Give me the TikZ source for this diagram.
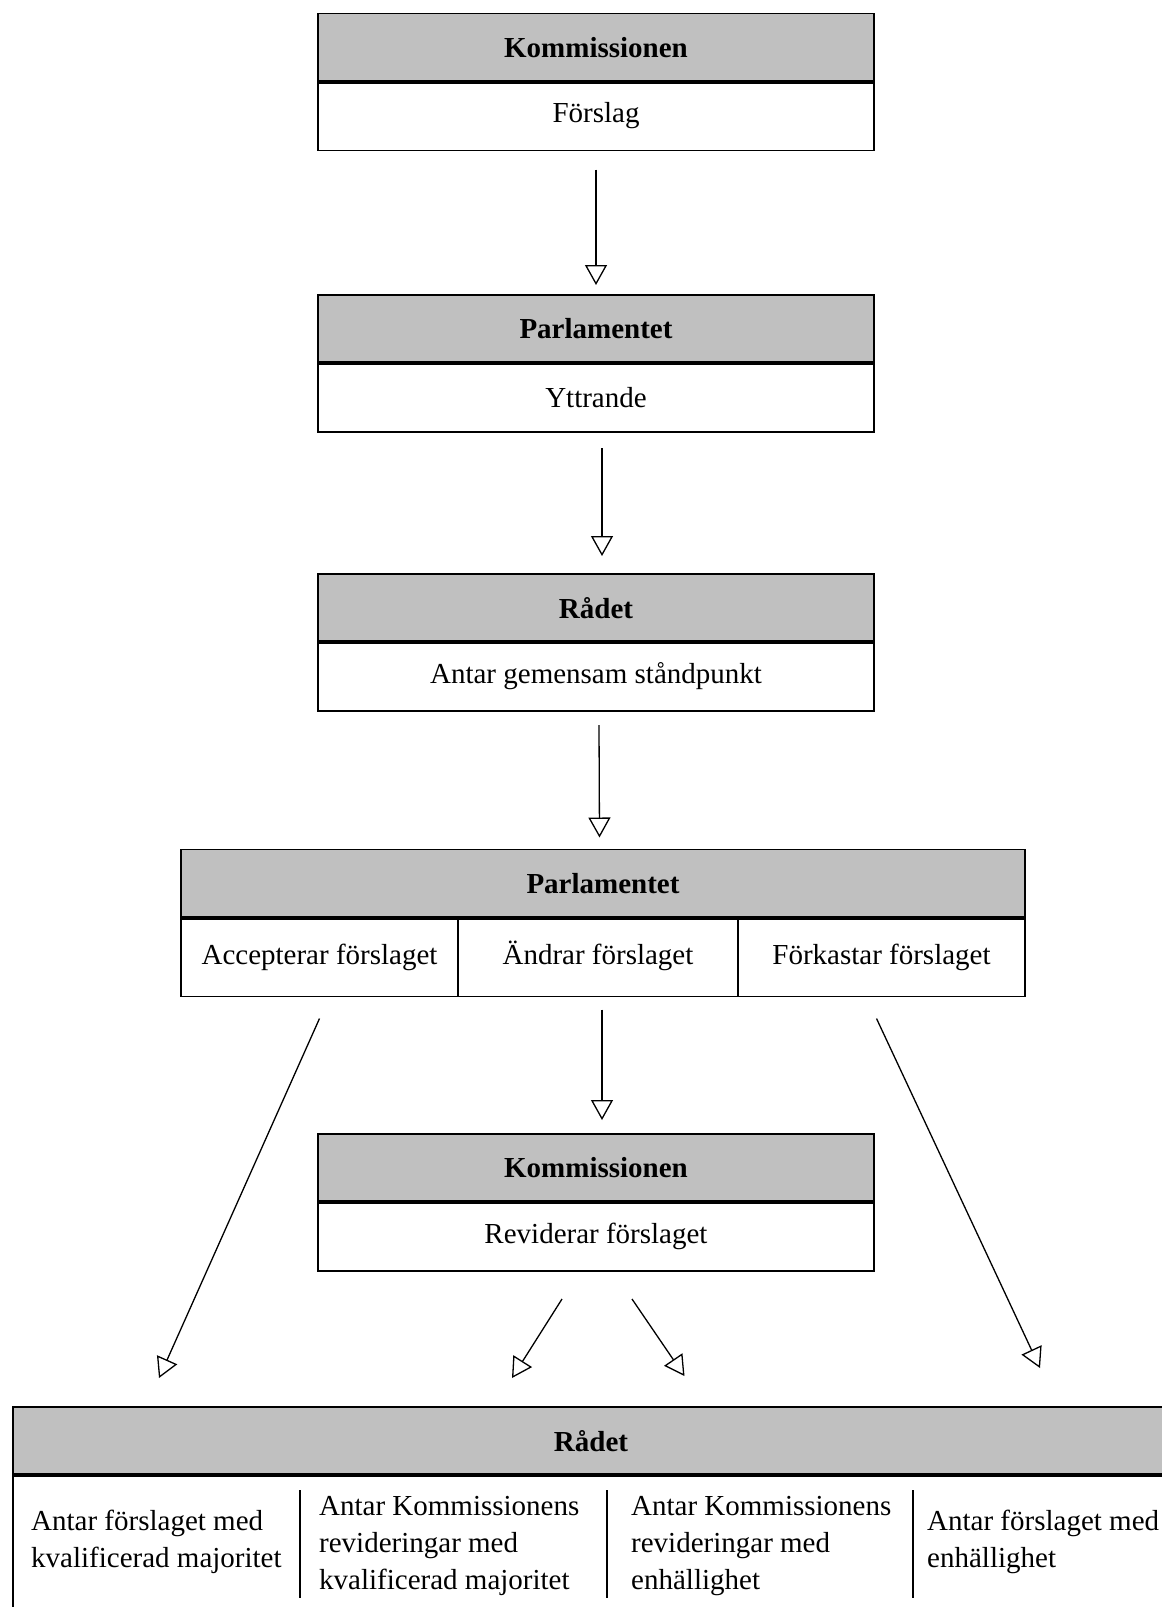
\documentclass[tikz,border=0pt]{standalone}
\usepackage{fontspec}
\setmainfont{Liberation Serif}
\usepackage{tikz}
\usetikzlibrary{arrows.meta, positioning}
\definecolor{hdrgray}{RGB}{192,192,192}
\tikzset{
  hdr/.style={rectangle, draw=black, fill=hdrgray, outer sep=0pt,
    minimum width=556pt, minimum height=68pt,
    font=\fontsize{29}{35}\selectfont\bfseries, line width=1.8pt},
  body/.style={rectangle, draw=black, fill=white, outer sep=0pt,
    minimum width=556pt, minimum height=69pt,
    font=\fontsize{29}{35}\selectfont, line width=1.8pt},
  cell/.style={rectangle, draw=black, fill=white, outer sep=0pt,
    minimum height=79pt, text height=21pt, text depth=7pt,
    font=\fontsize{29}{35}\selectfont, line width=1.8pt},
  celltxt/.style={align=left, anchor=base west, inner sep=0pt,
    font=\fontsize{29}{37}\selectfont},
  sepline/.style={line width=4pt},
  divider/.style={line width=1.8pt},
  arrow/.style={-{Triangle[open, length=20pt, width=22pt]}, line width=1.3pt}
}

\begin{document}
\begin{tikzpicture}[x=1pt, y=-1pt]
  \useasboundingbox (0,0) rectangle (1162,1607);
  \clip (0,0) rectangle (1162,1607);

  % Kommissionen
  \node[hdr] (kom1h) at (596,47.5) {Kommissionen};
  \node[body, below=0pt of kom1h] (kom1b) {Förslag};
  \draw[sepline] (kom1h.south west) -- (kom1h.south east);

  % Parlamentet
  \node[hdr] (par1h) at (596,329) {Parlamentet};
  \node[body, below=0pt of par1h] (par1b) {Yttrande};
  \draw[sepline] (par1h.south west) -- (par1h.south east);

  % Raadet
  \node[hdr] (rad1h) at (596,608) {Rådet};
  \node[body, below=0pt of rad1h] (rad1b) {Antar gemensam ståndpunkt};
  \draw[sepline] (rad1h.south west) -- (rad1h.south east);

  % Parlamentet, three outcomes
  \node[hdr, minimum width=844pt] (par2h) at (603,883.5) {Parlamentet};
  \node[cell, minimum width=277pt, anchor=north west] (acc) at (par2h.south west) {Accepterar förslaget};
  \node[cell, minimum width=280pt, right=0pt of acc] (andr) {Ändrar förslaget};
  \node[cell, minimum width=287pt, right=0pt of andr] (fork) {Förkastar förslaget};
  \draw[sepline] (par2h.south west) -- (par2h.south east);

  % Kommissionen reviderar
  \node[hdr] (kom2h) at (596,1168) {Kommissionen};
  \node[body, below=0pt of kom2h] (kom2b) {Reviderar förslaget};
  \draw[sepline] (kom2h.south west) -- (kom2h.south east);

  % Raadet, final decision
  \node[hdr, minimum width=1156pt] (rad2h) at (591,1441) {Rådet};
  \node[body, minimum width=1156pt, minimum height=150pt, below=0pt of rad2h] (rad2b) {};
  \draw[sepline] (rad2h.south west) -- (rad2h.south east);
  \foreach \x in {300,607,913}
    \draw[divider] (\x,1490) -- (\x,1598);
  \node[celltxt] (accmaj) at (31,1567) {Antar förslaget med\\kvalificerad majoritet};
  \node[celltxt] (revmaj) at (319,1589) {Antar Kommissionens\\revideringar med\\kvalificerad majoritet};
  \node[celltxt] (revenh) at (631,1589) {Antar Kommissionens\\revideringar med\\enhällighet};
  \node[celltxt] (accenh) at (927,1567) {Antar förslaget med\\enhällighet};

  % arrow ends
  \coordinate (tipA) at (159,1378);
  \coordinate (tipRL) at (512,1378);
  \coordinate (tipRR) at (684.5,1376);
  \coordinate (tipF) at (1040,1368);

  % Arrows
  \draw[arrow] ([yshift=-19pt]kom1b.south) -- ([yshift=10pt]par1h.north);
  \draw[arrow] ([xshift=6pt, yshift=-16pt]par1b.south) -- ([xshift=6pt, yshift=18pt]rad1h.north);
  \draw[arrow] ([xshift=3pt, yshift=-14pt]rad1b.south) -- ([xshift=-3.5pt, yshift=12pt]par2h.north);
  \draw[arrow] ([xshift=4pt, yshift=-13pt]andr.south) -- ([xshift=6pt, yshift=14pt]kom2h.north);
  \draw[arrow] ([yshift=-22pt]acc.south) -- (tipA);
  \draw[arrow] ([xshift=-5pt, yshift=-22pt]fork.south) -- (tipF);
  \draw[arrow] ([xshift=-34pt, yshift=-28pt]kom2b.south) -- (tipRL);
  \draw[arrow] ([xshift=36pt, yshift=-28pt]kom2b.south) -- (tipRR);
\end{tikzpicture}
\end{document}
